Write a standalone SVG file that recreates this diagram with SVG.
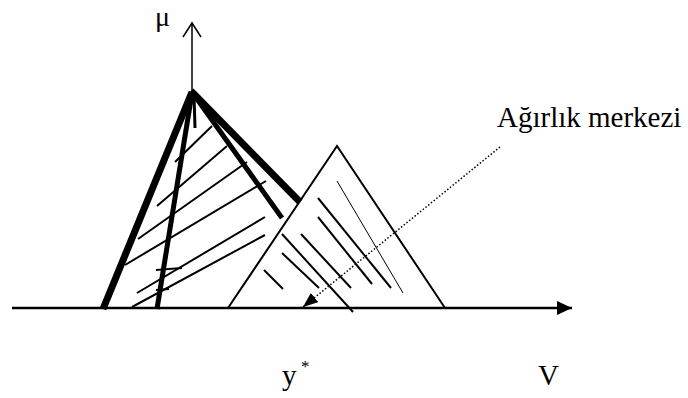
<svg xmlns="http://www.w3.org/2000/svg" width="688" height="398" viewBox="0 0 688 398">
<style>
  .txt { font-family: "Liberation Serif", "Times New Roman", serif; fill: #000; }
  .hatch { stroke: #000; stroke-width: 2; fill: none; stroke-linecap: butt; }
  .thin { stroke: #000; stroke-width: 1; fill: none; }
  .thick { stroke: #000; fill: none; stroke-linecap: butt; }
</style>
<defs>
  <marker id="fillArrow" markerWidth="16" markerHeight="14" refX="15" refY="7" orient="auto" markerUnits="userSpaceOnUse">
    <path d="M0,0 L15,7 L0,14 Z" fill="#000"/>
  </marker>
  <marker id="dotArrow" markerWidth="16" markerHeight="12" refX="15" refY="6" orient="auto" markerUnits="userSpaceOnUse">
    <path d="M0,0 L15,6 L0,12 Z" fill="#000"/>
  </marker>
</defs>
<rect width="688" height="398" fill="#fff"/>

<g id="axes">
  <line x1="12" y1="308" x2="572" y2="308" stroke="#000" stroke-width="2.5" marker-end="url(#fillArrow)"/>
  <line x1="192" y1="92" x2="192" y2="24" stroke="#000" stroke-width="1.5"/>
  <polyline points="183,37 192,23 201,37" fill="none" stroke="#000" stroke-width="1.5"/>
</g>

<g id="right-triangle">
  <polyline points="228,308 337,146 445,308" fill="none" stroke="#000" stroke-width="2"/>
  <line class="thin" x1="337" y1="181" x2="403" y2="293"/>
  <line class="hatch" x1="318" y1="198" x2="391" y2="288"/>
  <line class="hatch" x1="318" y1="217" x2="372" y2="284"/>
  <line class="hatch" x1="301" y1="234" x2="351" y2="288"/>
  <line class="hatch" x1="282" y1="234" x2="353" y2="312"/>
  <line class="hatch" x1="282" y1="253" x2="319" y2="288"/>
  <line class="hatch" x1="264" y1="270" x2="283" y2="289"/>
</g>

<g id="left-shape">
  <line class="hatch" x1="175" y1="162" x2="212" y2="126"/>
  <line class="hatch" x1="157" y1="206" x2="227" y2="146"/>
  <line class="hatch" x1="138" y1="239" x2="247" y2="162"/>
  <line class="hatch" x1="125" y1="265" x2="266" y2="181"/>
  <line class="hatch" x1="137" y1="293" x2="265" y2="217"/>
  <line class="hatch" x1="132" y1="307" x2="265" y2="235"/>
  <line class="hatch" x1="156" y1="270" x2="182" y2="268"/>
  <line class="hatch" x1="156" y1="290" x2="169" y2="289"/>
  <line class="thick" x1="192" y1="92" x2="103" y2="309" stroke-width="7"/>
  <line class="thick" x1="192" y1="93" x2="157" y2="309" stroke-width="5"/>
  <line class="thick" x1="194" y1="95" x2="195" y2="128" stroke-width="3"/>
  <line class="thick" x1="191" y1="91" x2="300" y2="202" stroke-width="7"/>
  <line class="thick" x1="192" y1="92" x2="282" y2="218" stroke-width="5"/>
</g>

<g id="connectors">
  <line x1="500" y1="147" x2="303" y2="307" stroke="#000" stroke-width="1.5" stroke-dasharray="1.5 2" marker-end="url(#dotArrow)"/>
</g>

<g id="labels">
  <text class="txt" x="155" y="26" font-size="28">μ</text>
  <text class="txt" x="497" y="127" font-size="29">Ağırlık merkezi</text>
  <text class="txt" x="282" y="385" font-size="29">y</text>
  <text class="txt" x="301" y="372" font-size="17">*</text>
  <text class="txt" x="538" y="385" font-size="29">V</text>
</g>
</svg>
